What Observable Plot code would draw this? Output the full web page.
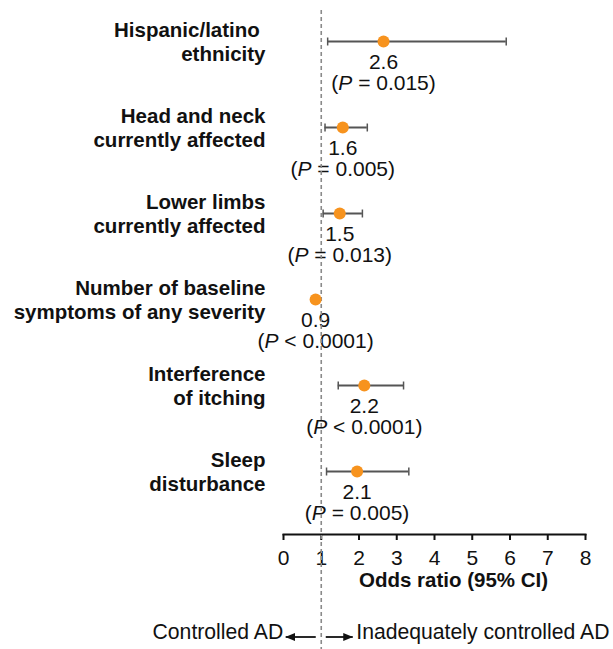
<!DOCTYPE html>
<html><head><meta charset="utf-8">
<script src="https://cdn.jsdelivr.net/npm/d3@7"></script>
<script src="https://cdn.jsdelivr.net/npm/@observablehq/plot@0.6"></script>
<style>
body{margin:0;background:#fff;}
svg{font-family:"Liberation Sans",Arial,Helvetica,sans-serif;}
</style>
</head><body><div id="chart"></div>
<script>
const factors = ["Hispanic/latino\u00a0\nethnicity", "Head and neck\ncurrently affected", "Lower limbs\ncurrently affected", "Number of baseline\nsymptoms of any severity", "Interference\nof itching", "Sleep\ndisturbance"];
const oddsRatio = [2.65, 1.57, 1.49, 0.85, 2.14, 1.95];
const ciLow = [1.17, 1.10, 1.05, 0.82, 1.45, 1.14];
const ciHigh = [5.90, 2.22, 2.09, 0.88, 3.18, 3.32];
const orLabels = ["2.6", "1.6", "1.5", "0.9", "2.2", "2.1"];
const pLabels = ["= 0.015", "= 0.005", "= 0.013", "< 0.0001", "< 0.0001", "= 0.005"];
const xTicks = [0, 1, 2, 3, 4, 5, 6, 7, 8];
const referenceOR = 1;

const rows = factors.map((f, i) => ({
  factor: f, or: oddsRatio[i], lo: ciLow[i], hi: ciHigh[i],
  orLabel: orLabels[i], pLabel: `(P ${pLabels[i]})`
}));

// vertical cap symbol for CI whiskers
const capSymbol = {draw(ctx, size) { const h = Math.sqrt(size) / 2; ctx.moveTo(0, -h); ctx.lineTo(0, h); }};

const plot = Plot.plot({
  width: 613,
  height: 649,
  marginLeft: 283,
  marginRight: 28,
  marginTop: 10,
  marginBottom: 115,
  x: {domain: [0, 8]},
  y: {type: "point", domain: factors, range: [40, 471], padding: 0, axis: null},
  style: {fontFamily: "Liberation Sans, Arial, sans-serif", background: "#fff", overflow: "visible"},
  marks: [
    Plot.frame({anchor: "bottom", stroke: "#111", strokeWidth: 2}),
    Plot.axisX({ticks: xTicks, tickSize: 6, tickPadding: 10, fontSize: 21, strokeWidth: 2, stroke: "#111", fill: "#111", label: null, tickFormat: d => String(d)}),
    Plot.text(["Odds ratio (95% CI)"], {frameAnchor: "bottom", dx: 19, dy: 52, fontSize: 20.5, fontWeight: "bold", fill: "#111"}),
    Plot.text(rows, {y: "factor", text: "factor", frameAnchor: "left", textAnchor: "end", dx: -18, dy: 0, lineHeight: 1.17, fontSize: 20.5, fontWeight: "bold", fill: "#111"}),
    Plot.text(rows, {x: "or", y: "factor", text: "orLabel", dy: 21, fontSize: 21, fill: "#111"}),
    Plot.text(rows, {x: "or", y: "factor", text: "pLabel", dy: 42, fontSize: 21, fill: "#111"}),
    Plot.text(["Controlled AD"], {x: referenceOR, frameAnchor: "bottom", textAnchor: "end", dx: -38, dy: 104, fontSize: 21.2, fill: "#111"}),
    Plot.text(["Inadequately controlled AD"], {x: referenceOR, frameAnchor: "bottom", textAnchor: "start", dx: 35, dy: 104, fontSize: 21.2, fill: "#111"}),
    Plot.ruleX([referenceOR], {stroke: "#8a8a8a", strokeWidth: 1.6, strokeDasharray: "4,3", insetTop: 0, insetBottom: -116}),
    Plot.ruleY(rows, {y: "factor", x1: "lo", x2: "hi", stroke: "#555", strokeWidth: 2}),
    Plot.dot(rows, {x: "lo", y: "factor", symbol: capSymbol, r: 4.5, fill: "none", stroke: "#555", strokeWidth: 1.5}),
    Plot.dot(rows, {x: "hi", y: "factor", symbol: capSymbol, r: 4.5, fill: "none", stroke: "#555", strokeWidth: 1.5}),
    Plot.dot(rows, {x: "or", y: "factor", r: 6, fill: "#F7931E", stroke: "none"})
  ]
});

const svg = d3.select(plot);
// italic P in the p-value labels
svg.selectAll("text").filter(function() {
  return this.childElementCount === 0 && /^\(P [=<]/.test(this.textContent);
}).each(function() {
  const t = this.textContent;
  const s = d3.select(this);
  s.text(null);
  s.append("tspan").text("(");
  s.append("tspan").attr("font-style", "italic").text("P");
  s.append("tspan").text(t.slice(2));
});

// direction arrows, positioned from the x scale
const xs = plot.scale("x");
const xr = xs.apply(referenceOR);
const yArrow = 649 - 115 + 103;
const defs = svg.append("defs");
defs.append("marker").attr("id", "ah").attr("viewBox", "0 0 10 9").attr("refX", 9.5).attr("refY", 4.5)
  .attr("markerWidth", 10).attr("markerHeight", 9).attr("markerUnits", "userSpaceOnUse").attr("orient", "auto")
  .append("path").attr("d", "M0,0.5 L10,4.5 L0,8.5 Z").attr("fill", "#111");
svg.append("line").attr("x1", xr - 5).attr("x2", xr - 35).attr("y1", yArrow).attr("y2", yArrow)
  .attr("stroke", "#111").attr("stroke-width", 1.8).attr("marker-end", "url(#ah)");
svg.append("line").attr("x1", xr + 5).attr("x2", xr + 32).attr("y1", yArrow).attr("y2", yArrow)
  .attr("stroke", "#111").attr("stroke-width", 1.8).attr("marker-end", "url(#ah)");

document.getElementById("chart").appendChild(plot);
</script>
</body></html>
